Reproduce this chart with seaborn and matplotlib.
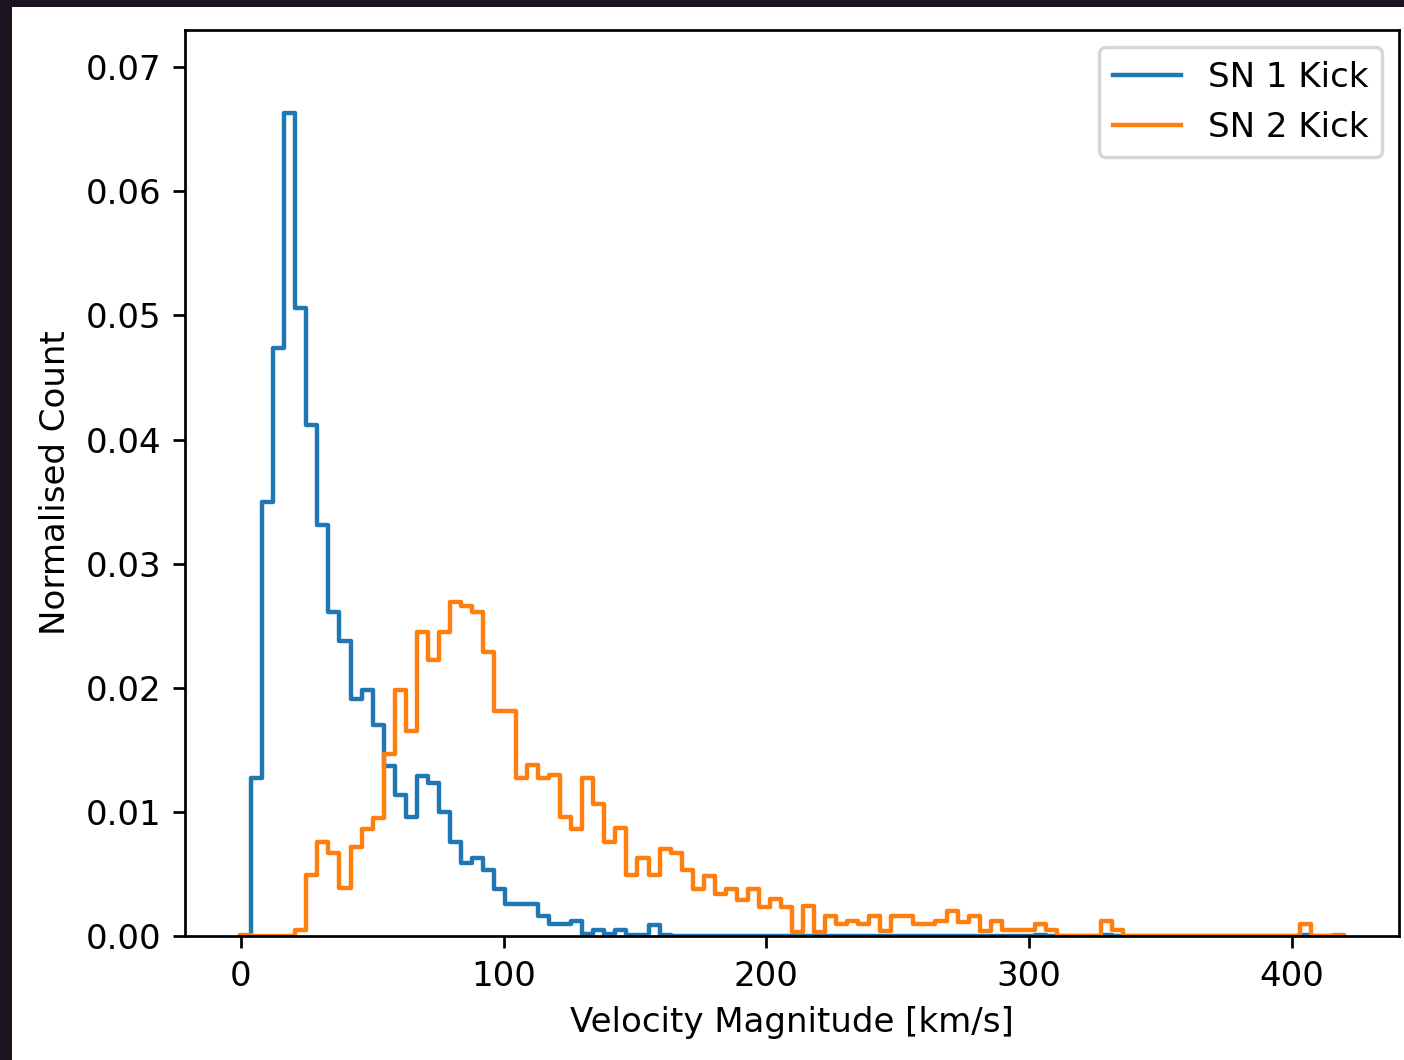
import numpy as np
import matplotlib
matplotlib.use("Agg")
import matplotlib.pyplot as plt
from matplotlib.patches import Rectangle
import seaborn as sns

# ---------------- data ----------------
BIN_START = -0.3
BIN_END = 419.9
N_BINS = 100

sn1_heights = [
    0.0000, 0.0127, 0.0350, 0.0474, 0.0663, 0.0506, 0.0412, 0.0331, 0.0261, 0.0238,
    0.0191, 0.0198, 0.0170, 0.0137, 0.0114, 0.0096, 0.0129, 0.0123, 0.0100, 0.0076,
    0.0059, 0.0063, 0.0053, 0.0038, 0.0026, 0.0026, 0.0026, 0.0016, 0.0010, 0.0010,
    0.0012, 0.0002, 0.0005, 0.0002, 0.0005, 0.0001, 0.0001, 0.0009, 0.0001, 0.0000,
    0.0000, 0.0000, 0.0000, 0.0000, 0.0000, 0.0000, 0.0000, 0.0000, 0.0000, 0.0000,
    0.0000, 0.0000, 0.0000, 0.0000, 0.0000, 0.0000, 0.0000, 0.0000, 0.0000, 0.0000,
    0.0000, 0.0000, 0.0000, 0.0000, 0.0000, 0.0000, 0.0000, 0.0000, 0.0000, 0.0000,
    0.0000, 0.0000, 0.0001, 0.0000, 0.0000, 0.0000, 0.0000, 0.0000, 0.0001, 0.0000,
    0.0000, 0.0000, 0.0000, 0.0000, 0.0000, 0.0000, 0.0000, 0.0000, 0.0000, 0.0000,
    0.0000, 0.0000, 0.0000, 0.0000, 0.0000, 0.0000, 0.0001, 0.0000, 0.0000, 0.0000,
]

sn2_heights = [
    0.0001, 0.0000, 0.0000, 0.0000, 0.0000, 0.0005, 0.0049, 0.0076, 0.0067, 0.0039,
    0.0072, 0.0086, 0.0095, 0.0147, 0.0198, 0.0165, 0.0245, 0.0222, 0.0245, 0.0269,
    0.0266, 0.0261, 0.0229, 0.0181, 0.0181, 0.0127, 0.0138, 0.0127, 0.0130, 0.0096,
    0.0086, 0.0127, 0.0106, 0.0076, 0.0087, 0.0049, 0.0063, 0.0049, 0.0070, 0.0067,
    0.0053, 0.0038, 0.0048, 0.0034, 0.0038, 0.0029, 0.0038, 0.0023, 0.0030, 0.0023,
    0.0003, 0.0024, 0.0003, 0.0016, 0.0010, 0.0012, 0.0010, 0.0016, 0.0004, 0.0016,
    0.0016, 0.0010, 0.0010, 0.0012, 0.0020, 0.0011, 0.0016, 0.0004, 0.0012, 0.0005,
    0.0005, 0.0005, 0.0010, 0.0005, 0.0000, 0.0000, 0.0000, 0.0000, 0.0012, 0.0005,
    0.0000, 0.0000, 0.0000, 0.0000, 0.0000, 0.0000, 0.0000, 0.0000, 0.0000, 0.0000,
    0.0000, 0.0000, 0.0000, 0.0000, 0.0000, 0.0000, 0.0010, 0.0000, 0.0000, 0.0001,
]

series_labels = ["SN 1 Kick", "SN 2 Kick"]
x_ticks = [0, 100, 200, 300, 400]
y_ticks = [0.00, 0.01, 0.02, 0.03, 0.04, 0.05, 0.06, 0.07]
x_label = "Velocity Magnitude [km/s]"
y_label = "Normalised Count"

# ---------------- figure ----------------
W, H, DPI = 1404, 1060, 245
fig = plt.figure(figsize=(W / DPI, H / DPI), dpi=DPI)
fig.patch.set_facecolor("#1b1320")
fig.add_artist(Rectangle((12 / W, 0), 1 - 12 / W, 1 - 7 / H,
                         transform=fig.transFigure, facecolor="white",
                         edgecolor="none", zorder=-10))

ax = fig.add_axes([185 / W, 124 / H, 1214 / W, 906 / H])
ax.set_facecolor("white")

edges = np.linspace(BIN_START, BIN_END, N_BINS + 1)
centers = 0.5 * (edges[:-1] + edges[1:])
# zero-width bins at both ends so the step outline drops to the baseline
plot_edges = [float(edges[0])] + [float(e) for e in edges] + [float(edges[-1])]

colors = ["#1f77b4", "#ff7f0e"]
for heights, label, color in zip([sn1_heights, sn2_heights], series_labels, colors):
    sns.histplot(x=centers, weights=np.asarray(heights), bins=plot_edges,
                 element="step", fill=False, color=color, linewidth=1.3,
                 label=label, ax=ax)

ax.set_xlim(-21.3, 440.9)
ax.set_ylim(0, 0.0730)
ax.set_xticks(x_ticks)
ax.set_yticks(y_ticks)
ax.set_xlabel(x_label)
ax.set_ylabel(y_label)
ax.legend(loc="upper right")

fig.savefig("out.png", dpi=DPI, facecolor=fig.get_facecolor())
